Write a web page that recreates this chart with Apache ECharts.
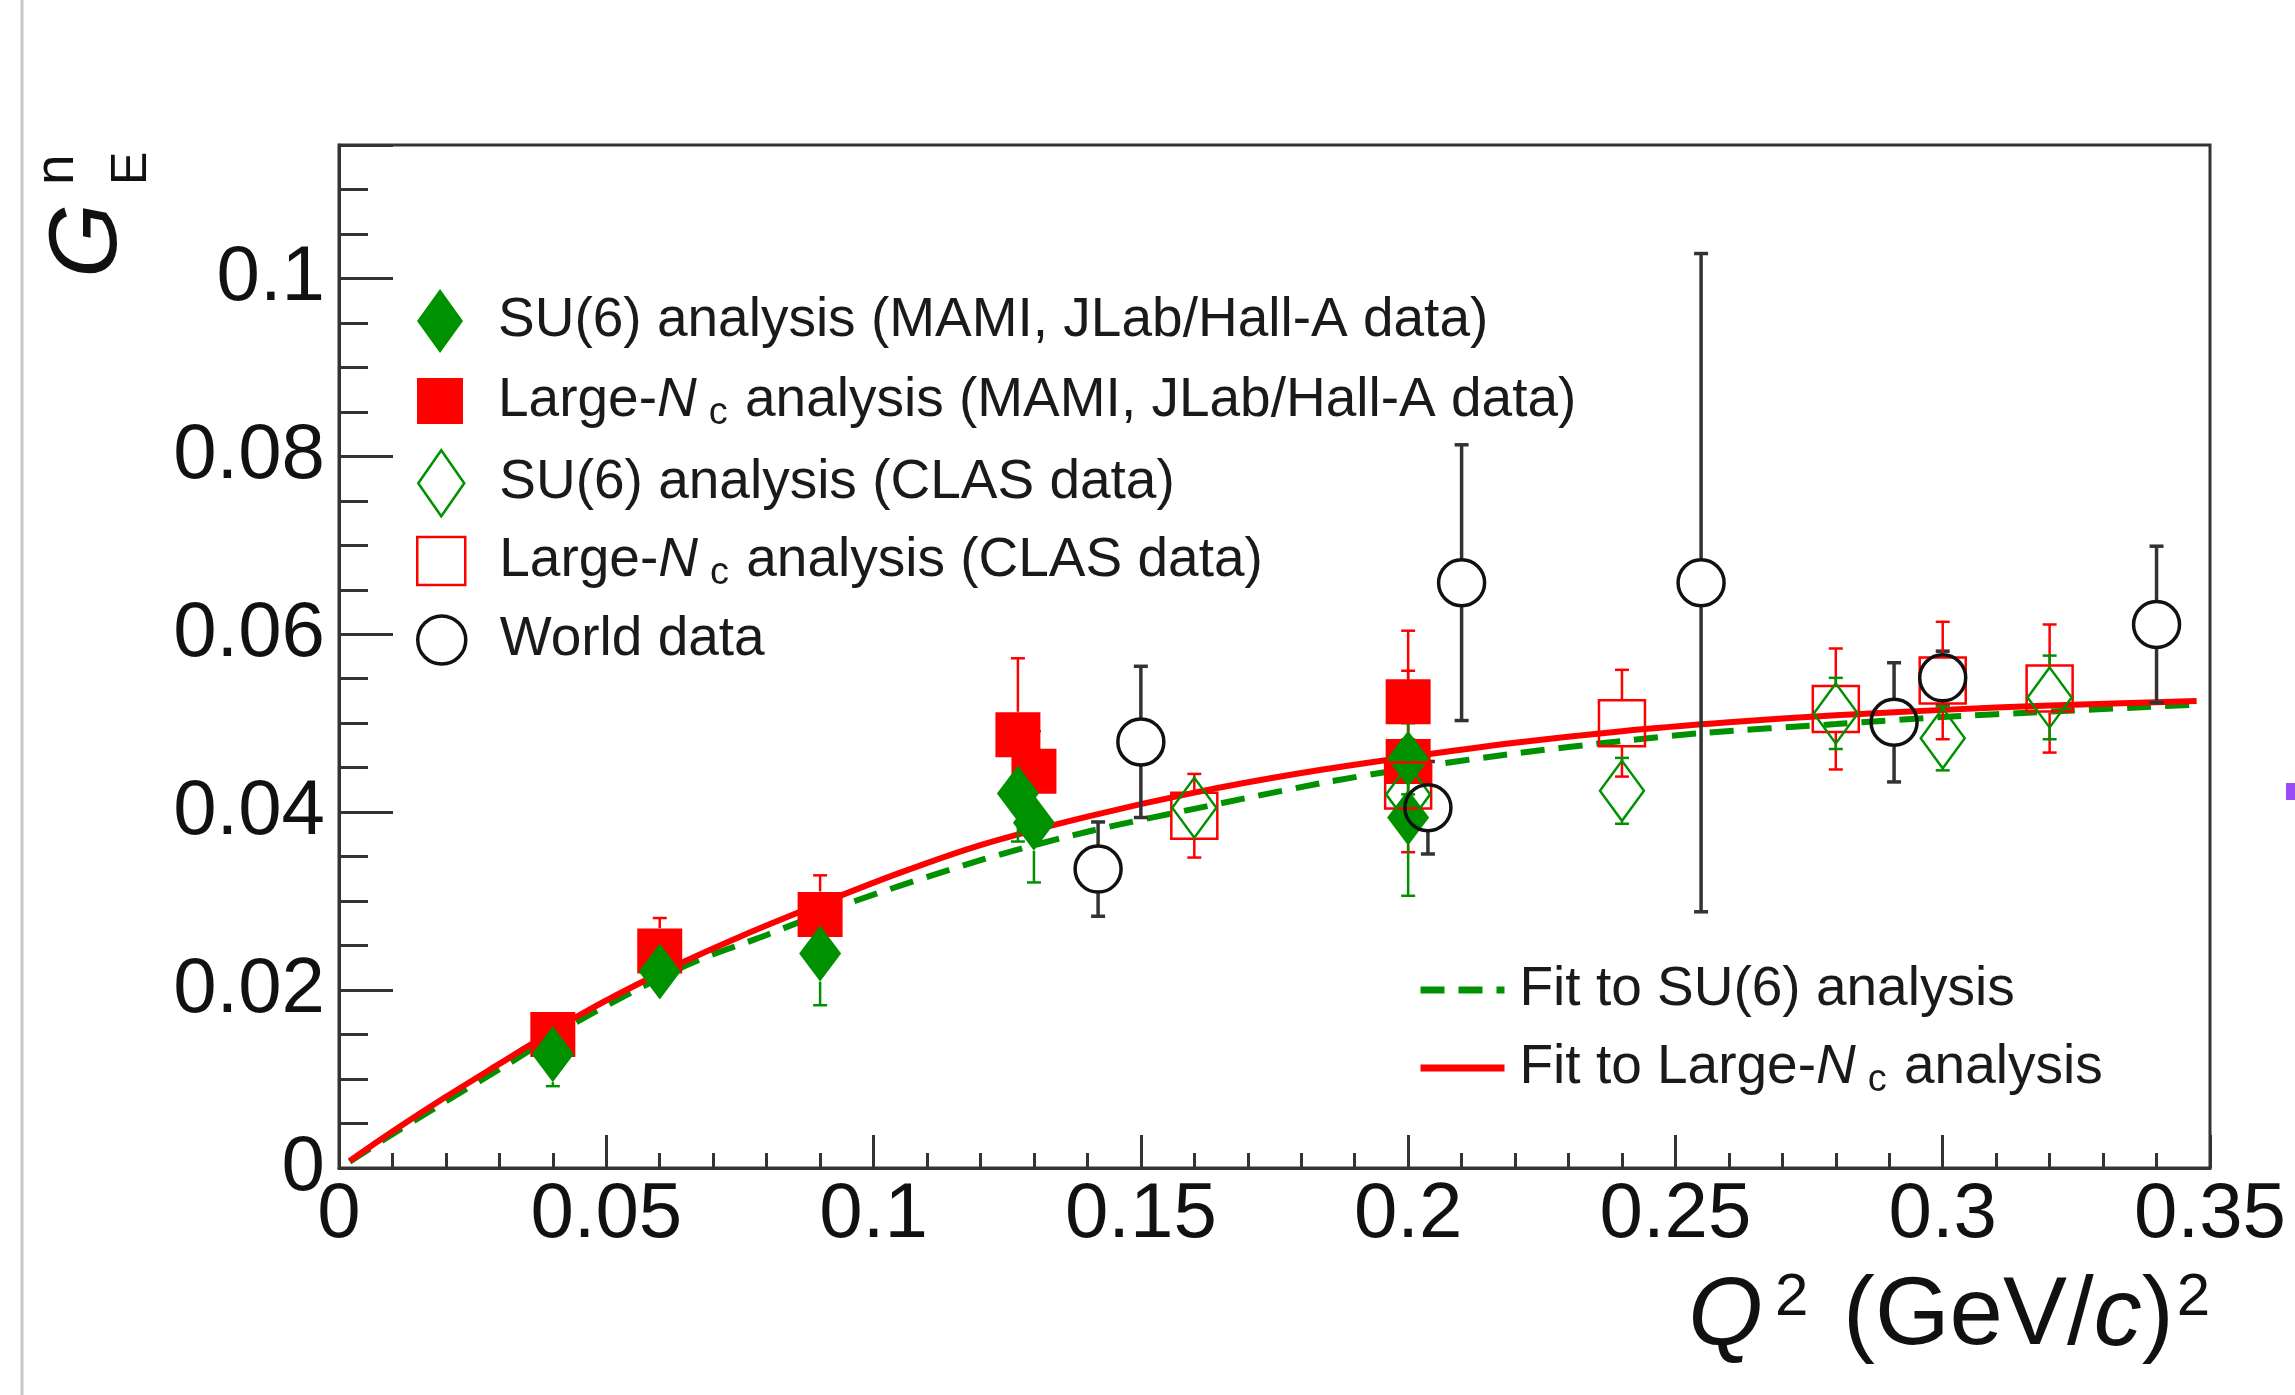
<!DOCTYPE html>
<html>
<head>
<meta charset="utf-8">
<title>GEn vs Q2</title>
<script src="https://cdn.jsdelivr.net/npm/echarts@6/dist/echarts.min.js"></script>
<style>
html, body { margin: 0; padding: 0; background: #fff; }
#chart { width: 2295px; height: 1395px; }
</style>
</head>
<body>
<div id="chart"></div>
<script>
// SU(6) analysis, MAMI + JLab/Hall-A (filled diamonds)
var su6HallQ2  = [0.04, 0.06, 0.09, 0.127, 0.13, 0.20, 0.20];
var su6HallG   = [0.0128, 0.0221, 0.0241, 0.0421, 0.0388, 0.0460, 0.0394];
var su6HallErr = [0.0036, 0.0025, 0.0058, 0.0054, 0.0067, 0.0040, 0.0088];

// Large-Nc analysis, MAMI + JLab/Hall-A (filled squares)
var lncHallQ2  = [0.04, 0.06, 0.09, 0.127, 0.13, 0.20, 0.20];
var lncHallG   = [0.0150, 0.0244, 0.0285, 0.0487, 0.0446, 0.0524, 0.0457];
var lncHallErr = [0.0020, 0.0037, 0.0044, 0.0086, 0.0045, 0.0080, 0.0102];

// SU(6) analysis, CLAS (open diamonds)
var su6ClasQ2  = [0.16, 0.20, 0.24, 0.28, 0.30, 0.32];
var su6ClasG   = [0.0405, 0.0420, 0.0424, 0.0511, 0.0483, 0.0529];
var su6ClasErr = [0.0030, 0.0030, 0.0037, 0.0040, 0.0036, 0.0047];

// Large-Nc analysis, CLAS (open squares)
var lncClasQ2  = [0.16, 0.20, 0.24, 0.28, 0.30, 0.32];
var lncClasG   = [0.0396, 0.0430, 0.0500, 0.0516, 0.0548, 0.0539];
var lncClasErr = [0.0047, 0.0040, 0.0060, 0.0068, 0.0066, 0.0072];

// world data (open circles)
var worldQ2  = [0.142, 0.150, 0.2037, 0.210, 0.2548, 0.2909, 0.300, 0.340];
var worldG   = [0.0336, 0.0479, 0.0405, 0.0658, 0.0658, 0.0501, 0.0551, 0.0611];
var worldErr = [0.0053, 0.0085, 0.0052, 0.0155, 0.0370, 0.0067, 0.0030, 0.0088];

// fit curves
var fitSu6Q2 = [0.002, 0.01, 0.02, 0.03, 0.045, 0.065, 0.08, 0.095, 0.12, 0.14, 0.165, 0.185, 0.20, 0.22, 0.24, 0.255, 0.28, 0.30, 0.32, 0.3475];
var fitSu6G  = [0.0007, 0.0038, 0.0075, 0.0111, 0.0166, 0.0228, 0.0262, 0.0297, 0.0346, 0.0378, 0.0410, 0.0434, 0.0449, 0.0466, 0.0480, 0.0489, 0.0499, 0.0507, 0.0513, 0.0521];
var fitLncQ2 = [0.002, 0.01, 0.02, 0.03, 0.045, 0.06, 0.075, 0.09, 0.105, 0.12, 0.14, 0.16, 0.18, 0.20, 0.22, 0.24, 0.26, 0.28, 0.30, 0.32, 0.3475];
var fitLncG  = [0.0008, 0.0041, 0.0080, 0.0117, 0.0172, 0.0219, 0.0260, 0.0297, 0.0332, 0.0363, 0.0395, 0.0422, 0.0444, 0.0462, 0.0478, 0.0491, 0.0501, 0.0509, 0.0515, 0.0520, 0.0525];

var xTicks = [0, 0.05, 0.1, 0.15, 0.2, 0.25, 0.3, 0.35];
var yTicks = [0, 0.02, 0.04, 0.06, 0.08, 0.1];

var nameSu6Hall = 'SU(6) analysis (MAMI, JLab/Hall-A data)';
var nameLncHall = 'Large-Nc analysis (MAMI, JLab/Hall-A data)';
var nameSu6Clas = 'SU(6) analysis (CLAS data)';
var nameLncClas = 'Large-Nc analysis (CLAS data)';
var nameWorld   = 'World data';
var nameFitSu6  = 'Fit to SU(6) analysis';
var nameFitLnc  = 'Fit to Large-Nc analysis';

var RED = '#ff0000';
var GREEN = '#009100';
var FONT = "'Liberation Sans', Arial, Helvetica, sans-serif";

function zip(a, b, c) {
    var out = [];
    for (var i = 0; i < a.length; i++) {
        out.push(c ? [a[i], b[i], c[i]] : [a[i], b[i]]);
    }
    return out;
}

function fmtName(name) {
    return name.replace('Large-Nc', 'Large-{it|N}{sub|c}');
}

//误差棒, 在符号处断开
function errorBars(color, width, gap, cap) {
    return function (params, api) {
        var x = api.value(0), y = api.value(1), e = api.value(2);
        var c = api.coord([x, y]);
        var hi = api.coord([x, y + e])[1];
        var lo = api.coord([x, y - e])[1];
        var st = { stroke: color, lineWidth: width };
        var kids = [];
        if (c[1] - gap > hi + 1) {
            kids.push({ type: 'line', shape: { x1: c[0], y1: hi, x2: c[0], y2: c[1] - gap }, style: st });
            kids.push({ type: 'line', shape: { x1: c[0] - cap, y1: hi, x2: c[0] + cap, y2: hi }, style: st });
        }
        if (lo - gap > c[1] + 1) {
            kids.push({ type: 'line', shape: { x1: c[0], y1: c[1] + gap, x2: c[0], y2: lo }, style: st });
            kids.push({ type: 'line', shape: { x1: c[0] - cap, y1: lo, x2: c[0] + cap, y2: lo }, style: st });
        }
        return { type: 'group', children: kids };
    };
}

function errSeries(name, q, g, e, color, width, gap) {
    return {
        type: 'custom',
        name: name + ' err',
        data: zip(q, g, e),
        encode: { x: 0, y: 1 },
        renderItem: errorBars(color, width, gap, 7),
        silent: true,
        z: 3
    };
}

var legendText = {
    fontFamily: FONT,
    fontSize: 55,
    lineHeight: 64,
    color: '#1a1a1a',
    rich: {
        it: { fontFamily: FONT, fontStyle: 'italic', fontSize: 55, lineHeight: 64, color: '#1a1a1a' },
        sub: { fontFamily: FONT, fontSize: 38, lineHeight: 38, verticalAlign: 'bottom', padding: [0, 2, 0, 12], color: '#1a1a1a' }
    }
};

// 图例位置按图标实际外框定位
function markerLegend(name, centerY, w, h, icon, border) {
    return {
        data: [{ name: name, icon: icon }],
        orient: 'vertical',
        left: 440 - w / 2,
        top: centerY - Math.max(h, 64) / 2,
        padding: 0,
        itemWidth: 106,
        itemHeight: h,
        selectedMode: false,
        formatter: fmtName,
        itemStyle: { borderWidth: border },
        textStyle: legendText
    };
}

function lineLegend(name, centerY, color, type) {
    var ts = echarts.util.clone(legendText);
    ts.padding = [0, 0, 0, 10];
    return {
        data: [name],
        orient: 'vertical',
        left: 1417,
        top: centerY - 32,
        padding: 0,
        itemWidth: 84,
        itemHeight: 20,
        selectedMode: false,
        formatter: fmtName,
        itemStyle: { opacity: 0, color: 'rgba(0,0,0,0)', borderWidth: 0 },
        lineStyle: { color: color, width: 7, type: type },
        textStyle: ts
    };
}

var chart = echarts.init(document.getElementById('chart'));

var option = {
    animation: false,
    backgroundColor: '#fff',
    textStyle: { fontFamily: FONT },
    grid: {
        left: 339, right: 85, top: 145, bottom: 227,
        show: true, borderColor: '#333', borderWidth: 3,
        outerBoundsMode: 'none'
    },
    legend: [
        markerLegend(nameSu6Hall, 321, 46, 64, 'path://M23,0L46,32L23,64L0,32Z', 0),
        markerLegend(nameLncHall, 401, 46, 46, 'path://M0,0H46V46H0Z', 0),
        markerLegend(nameSu6Clas, 482, 46, 66, 'path://M23,0L46,33L23,66L0,33Z', 2.5),
        markerLegend(nameLncClas, 561, 48, 48, 'path://M0,0H48V48H0Z', 2.5),
        markerLegend(nameWorld, 640, 48, 48, 'path://M24,0A24,24,0,1,1,24,48A24,24,0,1,1,24,0Z', 3.5),
        lineLegend(nameFitSu6, 990, GREEN, [24, 14]),
        lineLegend(nameFitLnc, 1068, RED, 'solid')
    ],
    xAxis: {
        type: 'value',
        min: xTicks[0],
        max: xTicks[xTicks.length - 1],
        interval: 0.05,
        axisLine: { show: true, onZero: false, lineStyle: { color: '#333', width: 3 } },
        axisTick: { show: true, inside: true, length: 33, lineStyle: { color: '#333', width: 3 } },
        minorTick: { show: true, splitNumber: 5, length: 15, lineStyle: { color: '#333', width: 3 } },
        splitLine: { show: false },
        axisLabel: {
            fontSize: 78, color: '#111', margin: 8, fontFamily: FONT,
            formatter: function (v) { return String(parseFloat(v.toFixed(3))); }
        }
    },
    yAxis: [{
        type: 'value',
        position: 'left',
        min: yTicks[0],
        max: 0.115,
        interval: 0.02,
        axisLine: { show: true, onZero: false, lineStyle: { color: '#333', width: 3 } },
        axisTick: { show: true, inside: true, length: 54, lineStyle: { color: '#333', width: 3 } },
        splitLine: { show: false },
        axisLabel: {
            fontSize: 78, color: '#111', margin: 14, fontFamily: FONT,
            formatter: function (v) { return v > 0.112 ? '' : String(parseFloat(v.toFixed(3))); }
        }
    }, {
        // 小刻度
        type: 'value',
        position: 'left',
        min: 0,
        max: 0.115,
        interval: 0.005,
        axisLine: { show: false },
        axisTick: { show: true, inside: true, length: 29, lineStyle: { color: '#333', width: 3 } },
        splitLine: { show: false },
        axisLabel: { show: false }
    }],
    graphic: [
        { type: 'line', shape: { x1: 22, y1: 0, x2: 22, y2: 1395 }, style: { stroke: '#c8c8c8', lineWidth: 3 }, silent: true },
        { type: 'rect', shape: { x: 2286, y: 783, width: 9, height: 17 }, style: { fill: '#9a4cf5' }, silent: true },
        {
            type: 'group', x: 117, y: 278, rotation: Math.PI / 2, silent: true,
            children: [
                { type: 'text', x: 0, y: 20, style: { text: 'G', fontFamily: FONT, fontStyle: 'italic', fontSize: 96, fill: '#111', verticalAlign: 'bottom', align: 'left' } },
                { type: 'text', x: 93, y: 40, style: { text: 'E', fontFamily: FONT, fontSize: 50, fill: '#111', verticalAlign: 'bottom', align: 'left' } },
                { type: 'text', x: 93, y: -32, style: { text: 'n', fontFamily: FONT, fontSize: 55, fill: '#111', verticalAlign: 'bottom', align: 'left' } }
            ]
        },
        {
            type: 'text', x: 2210, y: 1318, silent: true,
            style: {
                text: '{q|Q}{sup|2} (GeV/{c|c}){sup2|2}',
                align: 'right', verticalAlign: 'middle',
                fontFamily: FONT, fontSize: 96, lineHeight: 100, fill: '#111',
                rich: {
                    q: { fontFamily: FONT, fontStyle: 'italic', fontSize: 96, lineHeight: 100 },
                    c: { fontFamily: FONT, fontStyle: 'italic', fontSize: 96, lineHeight: 100 },
                    sup: { fontFamily: FONT, fontSize: 60, lineHeight: 44, verticalAlign: 'top', padding: [0, 8, 0, 12] },
                    sup2: { fontFamily: FONT, fontSize: 60, lineHeight: 44, verticalAlign: 'top', padding: [0, 0, 0, 3] }
                }
            }
        }
    ],
    series: [
        {
            type: 'line', name: nameFitSu6, data: zip(fitSu6Q2, fitSu6G),
            symbol: 'none', smooth: 0.3, z: 1, silent: true,
            lineStyle: { color: GREEN, width: 6, type: [24, 14] }, itemStyle: { color: GREEN }
        },
        {
            type: 'line', name: nameFitLnc, data: zip(fitLncQ2, fitLncG),
            symbol: 'none', smooth: 0.3, z: 1, silent: true,
            lineStyle: { color: RED, width: 6 }, itemStyle: { color: RED }
        },
        errSeries(nameWorld, worldQ2, worldG, worldErr, '#333', 3.5, 24),
        errSeries(nameLncHall, lncHallQ2, lncHallG, lncHallErr, RED, 2.5, 23),
        errSeries(nameSu6Hall, su6HallQ2, su6HallG, su6HallErr, GREEN, 2.5, 28),
        errSeries(nameLncClas, lncClasQ2, lncClasG, lncClasErr, RED, 2.5, 24),
        errSeries(nameSu6Clas, su6ClasQ2, su6ClasG, su6ClasErr, GREEN, 2.5, 30),
        {
            type: 'scatter', name: nameLncHall, data: zip(lncHallQ2, lncHallG),
            symbol: 'rect', symbolSize: 45, z: 4, silent: true,
            itemStyle: { color: RED, opacity: 1 }
        },
        {
            type: 'scatter', name: nameSu6Hall, data: zip(su6HallQ2, su6HallG),
            symbol: 'diamond', symbolSize: [42, 56], z: 4, silent: true,
            itemStyle: { color: GREEN, opacity: 1 }
        },
        {
            type: 'scatter', name: nameLncClas, data: zip(lncClasQ2, lncClasG),
            symbol: 'rect', symbolSize: 46, z: 4, silent: true,
            itemStyle: { color: 'rgba(0,0,0,0)', borderColor: RED, borderWidth: 2.5, opacity: 1 }
        },
        {
            type: 'scatter', name: nameSu6Clas, data: zip(su6ClasQ2, su6ClasG),
            symbol: 'diamond', symbolSize: [44, 60], z: 4, silent: true,
            itemStyle: { color: 'rgba(0,0,0,0)', borderColor: GREEN, borderWidth: 2.5, opacity: 1 }
        },
        {
            type: 'scatter', name: nameWorld, data: zip(worldQ2, worldG),
            symbol: 'circle', symbolSize: 46, z: 4, silent: true,
            itemStyle: { color: 'rgba(0,0,0,0)', borderColor: '#111', borderWidth: 3.5, opacity: 1 }
        }
    ]
};

chart.setOption(option);
</script>
</body>
</html>
